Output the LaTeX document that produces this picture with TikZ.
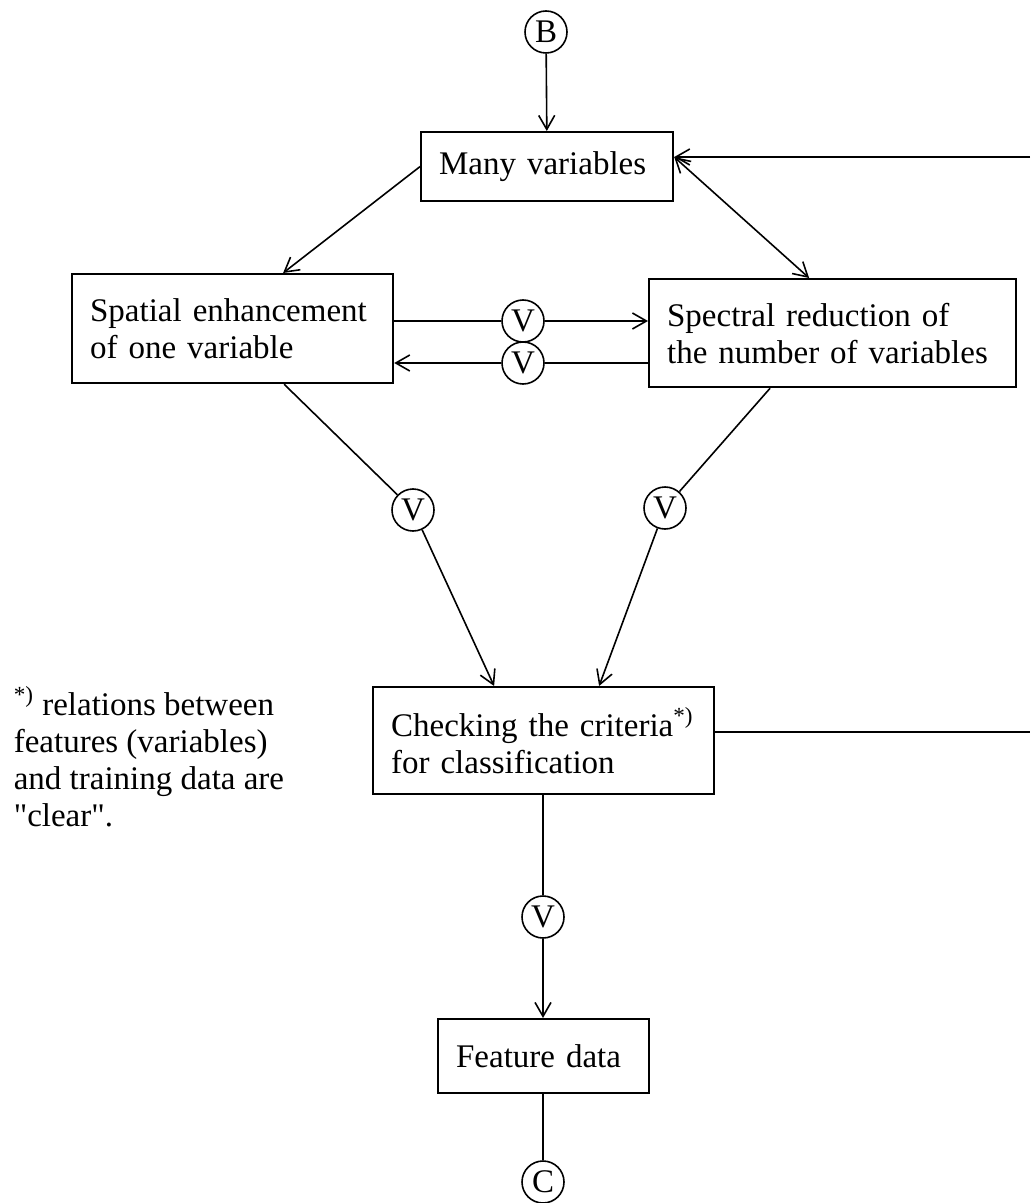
\documentclass[tikz,border=0pt]{standalone}
\usepackage{fontspec}
\setmainfont{Liberation Serif}
\usetikzlibrary{arrows.meta}

\tikzset{
  box/.style={draw, line width=1.1pt, align=left, anchor=north west,
    inner xsep=9pt, inner ysep=0pt},
  vcirc/.style={draw, circle, line width=0.8pt, minimum size=21pt, inner sep=0pt},
  arr/.style={-{Straight Barb[length=7pt,width=8pt]}},
  arrboth/.style={{Straight Barb[length=7pt,width=8pt]}-{Straight Barb[length=7pt,width=8pt]}},
}

\begin{document}
\begin{tikzpicture}[x=0.5pt, y=-0.5pt, line width=0.8pt,
  font=\fontsize{16.5}{18.5}\selectfont]

  % Page frame
  \useasboundingbox (0,0) rectangle (1030,1203);

  % Loose ends at the right border
  \coordinate (topRight) at (1030,157);
  \coordinate (midRight) at (1030,732);

  % Boxes
  \node[box, text width=108pt, minimum height=34.5pt] (many) at (420,131) {Many variables};
  \node[box, text width=142.5pt, minimum height=54.5pt] (spatial) at (71,273)
    {Spatial enhancement\\of one variable};
  \node[box, text width=165.5pt, minimum height=54pt] (spectral) at (648,278)
    {Spectral reduction of\\the number of variables};
  \node[box, text width=152.5pt, minimum height=53.5pt] (checking) at (372,686)
    {Checking the criteria\textsuperscript{*)}\\for classification};
  \node[box, text width=87.5pt, minimum height=37pt] (feature) at (437,1018) {Feature data};

  % Connector circles
  \node[vcirc] (b) at (546,32) {B};
  \node[vcirc] (v1) at (523,321) {V};
  \node[vcirc] (v2) at (523,363) {V};
  \node[vcirc] (vl) at (413,510) {V};
  \node[vcirc] (vr) at (665,508) {V};
  \node[vcirc] (vb) at (543,917) {V};
  \node[vcirc] (c) at (543,1182) {C};

  % Footnote
  \node[anchor=north west, align=left, inner sep=0pt] (note) at (13,686)
    {\textsuperscript{*)} relations between\\features (variables)\\and training data are\\\textquotedbl clear\textquotedbl.};

  % Top part
  \draw[arr] (b) -- (many);
  \draw[arr] (topRight) -- (topRight -| many.east);
  \draw[arrboth] (topRight -| many.east) -- ([xshift=-11.75pt]spectral.north);
  \draw[arr] (many.west) -- ([xshift=25.25pt]spatial.north);

  % Exchange between the two branches
  \draw (spatial.east |- v1) -- (v1);
  \draw[arr] (v1) -- (v1 -| spectral.west);
  \draw (spectral.west |- v2) -- (v2);
  \draw[arr] (v2) -- (v2 -| spatial.east);

  % Branches down to the check
  \draw ([xshift=25.75pt]spatial.south) -- (vl);
  \draw[arr] (vl) -- ([xshift=-24.75pt]checking.north);
  \draw ([xshift=-31.25pt]spectral.south) -- (vr);
  \draw[arr] (vr) -- ([xshift=27.75pt]checking.north);
  \draw (checking.east |- midRight) -- (midRight);

  % Bottom part
  \draw (checking.south -| vb) -- (vb);
  \draw[arr] (vb) -- (feature.north -| vb);
  \draw (feature.south -| c) -- (c);

\end{tikzpicture}
\end{document}
